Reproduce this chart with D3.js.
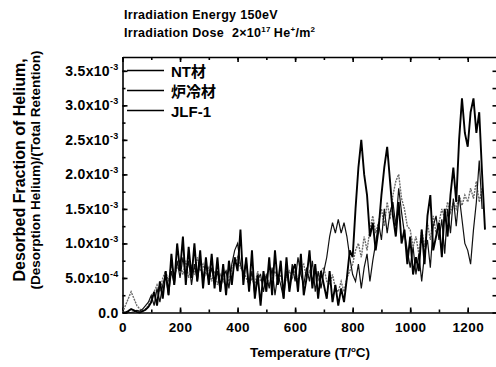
<!DOCTYPE html>
<html>
<head>
<meta charset="utf-8">
<script src="https://cdn.jsdelivr.net/npm/d3@7"></script>
<style>
  body { margin: 0; background: #fff; }
  svg { display: block; }
  text { font-family: "Liberation Sans", Arial, sans-serif; font-weight: bold; fill: #000; }
</style>
</head>
<body>
<div id="chart"></div>
<script>
// temperature grid (deg C), every 10 deg
const temps = d3.range(0, 1270, 10);

// desorbed fraction, in units of 1e-4
const ntVals = [
  0, 0, 0.2, 0.5, 0.3, 0.1, 0, 0.2, 0.4, 0.8,
  1.5, 3, 1, 4.5, 2, 6, 2.5, 8.5, 4, 10,
  6, 11, 4, 9.5, 5, 10, 4.5, 9, 3.5, 8,
  4, 8.5, 3.5, 8, 3, 7, 2.5, 7.5, 4, 8,
  6, 12, 4, 8, 3, 9, 2, 5.5, 1, 6,
  3, 8, 2.5, 9, 4, 7.5, 2, 8, 3, 6,
  7, 3, 8.5, 2.5, 5, 9, 3.5, 7, 2, 6,
  4, 2, 6, 1.5, 4, 1, 3.5, 1.5, 5, 9,
  8, 15, 21, 25, 20, 17, 11, 13, 9, 12,
  17, 21, 24, 19, 14, 11, 16, 10, 12, 7,
  11, 5.5, 8, 6, 12, 7, 14, 17, 9, 11,
  13, 8, 15, 11, 17, 21, 16, 25, 31, 26,
  24, 29, 31, 26, 29, 20, 12
];
const rosVals = [
  0, 0, 0, 0, 0.1, 0.3, 0.2, 0.5, 1, 1.5,
  2.5, 1, 3.5, 1.5, 4, 5.5, 2.5, 6, 4, 7.5,
  5, 8, 5, 7.5, 4, 7, 4.5, 7.5, 5, 7,
  4.5, 6.5, 4, 6, 3, 5.5, 6, 3.5, 7, 9,
  10, 7, 5.5, 7.5, 3.5, 6, 2.5, 5, 5.5, 3,
  5.5, 3.5, 6.5, 2.5, 5.5, 4, 2, 6, 3.5, 7,
  4.5, 8, 5.5, 4, 6.5, 4.5, 7.5, 3, 6, 3.5,
  6, 8, 11, 13, 11.5, 13.5, 11.5, 13, 11, 8,
  5.5, 4.5, 7, 3.5, 6.5, 8.5, 4.5, 7.5, 10, 13,
  10.5, 15, 11.5, 14.5, 16, 12.5, 18, 14.5, 11.5, 9,
  6.5, 9.5, 5.5, 8.5, 4.5, 8.5, 10.5, 6.5, 12.5, 14,
  10.5, 13.5, 8.5, 15, 11.5, 16.5, 12.5, 17, 13.5, 10,
  9, 7, 12, 16, 22, 15
];
const jlfVals = [
  0, 1, 2, 3, 2, 1, 0.5, 0.2, 0.5, 1,
  2, 3, 4, 3, 5, 6, 4.5, 7, 5.5, 6.5,
  7, 5.5, 7.5, 5, 7, 5.5, 8, 6, 7, 5.5,
  6.5, 4.5, 6, 4, 5.5, 4.5, 6, 4.5, 6.5, 7,
  8, 6.5, 6, 5, 4, 5, 4, 6, 4.5, 4.5,
  5.5, 4, 5, 6, 4.5, 5.5, 3.5, 5, 6, 5,
  6, 4.5, 6.5, 7, 5, 6, 4.5, 6.5, 4.5, 6,
  6.5, 4.5, 4, 5.5, 3.5, 3, 4.5, 3, 5, 6,
  7, 9, 10, 8, 11, 9, 12, 14, 11.5, 13,
  15, 12.5, 16, 13.5, 17, 19, 20, 16.5, 15, 12.5,
  12, 9.5, 11, 8.5, 12, 9.5, 13, 10.5, 14, 11.5,
  13, 15, 13.5, 16, 14.5, 16, 15, 17, 15.5, 17,
  16, 18, 16.5, 19, 16, 18
];

const seriesNames = ["NT材", "炉冷材", "JLF-1"];
const xTicks = [0, 200, 400, 600, 800, 1000, 1200];
const yTicks = [0, 0.5e-3, 1.0e-3, 1.5e-3, 2.0e-3, 2.5e-3, 3.0e-3, 3.5e-3];
const yTickText = [["0.0", ""], ["5.0x10", "-4"], ["1.0x10", "-3"], ["1.5x10", "-3"],
  ["2.0x10", "-3"], ["2.5x10", "-3"], ["3.0x10", "-3"], ["3.5x10", "-3"]];

const width = 496, height = 367;
const plotL = 122.5, plotR = 496.5, plotT = 57, plotB = 312.5;

const svg = d3.select("#chart").append("svg")
  .attr("width", width)
  .attr("height", height);

const x = d3.scaleLinear().domain([0, 1300]).range([plotL, plotR]);
const y = d3.scaleLinear().domain([0, 3.7e-3]).range([plotB, plotT]);

// minor ticks
const xMinor = d3.range(0, 1301, 100);
const yMinor = d3.range(0, 3.71e-3, 0.25e-3);

function drawAxis(axis, tx, ty) {
  const g = svg.append("g").attr("transform", "translate(" + tx + "," + ty + ")").call(axis);
  g.selectAll("path, line").attr("stroke", "#000").attr("stroke-width", 1.6);
  return g;
}

// bottom
const gx = drawAxis(d3.axisBottom(x).tickValues(xTicks).tickSizeInner(-5).tickSizeOuter(0).tickPadding(10)
  .tickFormat(d3.format("d")), 0, plotB);
gx.selectAll("text").attr("font-size", 13.5).attr("font-family", "Liberation Sans, Arial")
  .attr("font-weight", "bold").style("letter-spacing", "0.4px");
drawAxis(d3.axisBottom(x).tickValues(xMinor).tickSizeInner(-3).tickSizeOuter(0).tickFormat(""), 0, plotB)
  .select("path").remove();

// top
drawAxis(d3.axisTop(x).tickValues(xTicks).tickSizeInner(-5).tickSizeOuter(0).tickFormat(""), 0, plotT);
drawAxis(d3.axisTop(x).tickValues(xMinor).tickSizeInner(-3).tickSizeOuter(0).tickFormat(""), 0, plotT)
  .select("path").remove();

// left
drawAxis(d3.axisLeft(y).tickValues(yTicks).tickSizeInner(-5).tickSizeOuter(0).tickFormat(""), plotL, 0);
drawAxis(d3.axisLeft(y).tickValues(yMinor).tickSizeInner(-3).tickSizeOuter(0).tickFormat(""), plotL, 0)
  .select("path").remove();

// right
drawAxis(d3.axisRight(y).tickValues(yMinor).tickSizeInner(-4).tickSizeOuter(0).tickFormat(""), plotR, 0);

// y tick labels with superscripts
yTicks.forEach((v, i) => {
  const t = svg.append("text")
    .attr("x", plotL - 4)
    .attr("y", y(v) + 5)
    .attr("text-anchor", "end")
    .attr("font-size", 14)
    .style("letter-spacing", "0.3px");
  t.append("tspan").text(yTickText[i][0]);
  if (yTickText[i][1]) {
    t.append("tspan").attr("dy", -6).attr("font-size", 9).text(yTickText[i][1]);
  }
});

// lines
const line = d3.line()
  .x(d => x(d[0]))
  .y(d => y(d[1] * 1e-4));

function pts(vals) {
  return vals.map((v, i) => [temps[i], v]);
}

svg.append("path").datum(pts(jlfVals))
  .attr("fill", "none").attr("stroke", "#6a6a6a").attr("stroke-width", 1.4)
  .attr("stroke-dasharray", "2,1").attr("d", line);
svg.append("path").datum(pts(rosVals))
  .attr("fill", "none").attr("stroke", "#111").attr("stroke-width", 1.2).attr("d", line);
svg.append("path").datum(pts(ntVals))
  .attr("fill", "none").attr("stroke", "#000").attr("stroke-width", 1.9).attr("d", line);

// legend
const legY = [70.5, 90.5, 110.5];
seriesNames.forEach((name, i) => {
  svg.append("line")
    .attr("x1", 127).attr("x2", 164)
    .attr("y1", legY[i]).attr("y2", legY[i])
    .attr("stroke", "#000").attr("stroke-width", 1.5);
  svg.append("text")
    .attr("x", 171).attr("y", legY[i] + 6)
    .attr("font-size", 15)
    .style("font-family", "'Liberation Sans', 'Noto Sans CJK JP', sans-serif")
    .text(name);
});

// titles
svg.append("text").attr("x", 124).attr("y", 19).attr("font-size", 12.5)
  .style("letter-spacing", "0.3px")
  .text("Irradiation Energy 150eV");
const t2 = svg.append("text").attr("x", 124).attr("y", 37).attr("font-size", 12.5)
  .style("letter-spacing", "0.3px");
t2.append("tspan").text("Irradiation Dose");
t2.append("tspan").attr("dx", 8).text("2×10");
t2.append("tspan").attr("dy", -5).attr("font-size", 8).text("17");
t2.append("tspan").attr("dy", 5).attr("dx", 3).text("He");
t2.append("tspan").attr("dy", -5).attr("font-size", 8).text("+");
t2.append("tspan").attr("dy", 5).text("/m");
t2.append("tspan").attr("dy", -5).attr("font-size", 8).text("2");

// x title
const xt = svg.append("text").attr("x", 310).attr("y", 357).attr("text-anchor", "middle").attr("font-size", 13.5);
xt.append("tspan").text("Temperature (T/");
xt.append("tspan").attr("dy", -5).attr("font-size", 8).text("o");
xt.append("tspan").attr("dy", 5).text("C)");

// y title (two lines)
svg.append("text")
  .attr("transform", "translate(25,170) rotate(-90)")
  .attr("text-anchor", "middle").attr("font-size", 16)
  .text("Desorbed Fraction of Helium,");
svg.append("text")
  .attr("transform", "translate(40,170) rotate(-90)")
  .attr("text-anchor", "middle").attr("font-size", 13.5)
  .text("(Desorption Helium)/(Total Retention)");
</script>
</body>
</html>
